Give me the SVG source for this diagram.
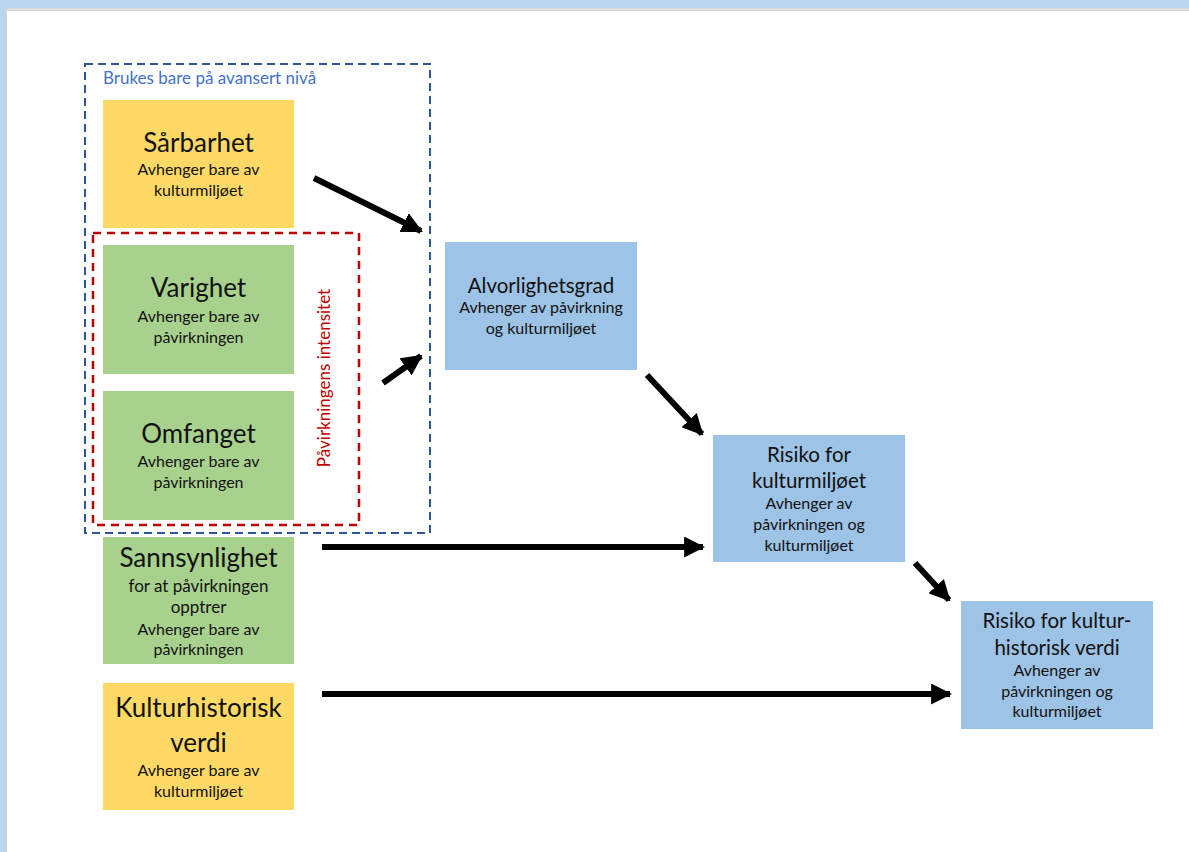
<svg xmlns="http://www.w3.org/2000/svg" width="1189" height="852" viewBox="0 0 1189 852">
<style>
text{font-family:Lato,"Liberation Sans",sans-serif;fill:#111;text-anchor:middle}
.t{font-size:26px}
.tm{font-size:20.5px}
.s{font-size:16px}
.yel{fill:#ffd966}
.grn{fill:#a9d18e}
.blu{fill:#9dc3e6}
.c{stroke:#000;stroke-width:6;fill:none;marker-end:url(#ah)}
</style>
<defs>
<marker id="ah" markerWidth="3.5" markerHeight="3.5" refX="9" refY="5" orient="auto" markerUnits="strokeWidth" viewBox="0 0 10 10">
<path d="M0,0 L10,5 L0,10 Z" fill="#000"/>
</marker>
</defs>
<rect x="0" y="0" width="1189" height="852" fill="#fff"/>
<rect x="0" y="0" width="1189" height="8" fill="#bcd7ed"/>
<rect x="0" y="0" width="7" height="852" fill="#bcd7ed"/>
<rect x="7" y="8" width="1182" height="3" fill="#d9d9d9"/>

<g id="group-avansert">
<rect x="85" y="64" width="345" height="469" fill="none" stroke="#2f5597" stroke-width="2" stroke-dasharray="8,5"/>
<text x="103" y="84" style="font-size:17px;fill:#4472c4;text-anchor:start">Brukes bare på avansert nivå</text>
</g>

<g id="sarbarhet">
<rect class="yel" x="103" y="100" width="191" height="128"/>
<text class="t" x="198.5" y="152">Sårbarhet</text>
<text class="s" x="198.5" y="175">Avhenger bare av</text>
<text class="s" x="198.5" y="196">kulturmiljøet</text>
</g>

<g id="group-intensitet">
<rect x="93" y="233" width="266" height="292" fill="none" stroke="#c00000" stroke-width="2.5" stroke-dasharray="8,6"/>
<text transform="translate(330,378) rotate(-90)" style="font-size:17px;fill:#c00000">Påvirkningens intensitet</text>
</g>

<g id="varighet">
<rect class="grn" x="103" y="245" width="191" height="129"/>
<text class="t" x="198.5" y="297">Varighet</text>
<text class="s" x="198.5" y="322">Avhenger bare av</text>
<text class="s" x="198.5" y="343">påvirkningen</text>
</g>

<g id="omfanget">
<rect class="grn" x="103" y="391" width="191" height="129"/>
<text class="t" x="198.5" y="443">Omfanget</text>
<text class="s" x="198.5" y="467">Avhenger bare av</text>
<text class="s" x="198.5" y="488">påvirkningen</text>
</g>

<g id="sannsynlighet">
<rect class="grn" x="103" y="537" width="191" height="127"/>
<text class="t" x="198.5" y="567">Sannsynlighet</text>
<text x="198.5" y="592" style="font-size:17px">for at påvirkningen</text>
<text x="198.5" y="613" style="font-size:17px">opptrer</text>
<text class="s" x="198.5" y="635">Avhenger bare av</text>
<text class="s" x="198.5" y="655">påvirkningen</text>
</g>

<g id="kulturhistorisk-verdi">
<rect class="yel" x="103" y="683" width="191" height="127"/>
<text class="t" x="198.5" y="717">Kulturhistorisk</text>
<text class="t" x="198.5" y="752">verdi</text>
<text class="s" x="198.5" y="776">Avhenger bare av</text>
<text class="s" x="198.5" y="797">kulturmiljøet</text>
</g>

<g id="alvorlighetsgrad">
<rect class="blu" x="445" y="242" width="192" height="128"/>
<text class="tm" x="541" y="293">Alvorlighetsgrad</text>
<text class="s" x="541" y="313">Avhenger av påvirkning</text>
<text class="s" x="541" y="334">og kulturmiljøet</text>
</g>

<g id="risiko-kulturmiljo">
<rect class="blu" x="713" y="435" width="192" height="127"/>
<text class="tm" x="809" y="462">Risiko for</text>
<text class="tm" x="809" y="488">kulturmiljøet</text>
<text class="s" x="809" y="509">Avhenger av</text>
<text class="s" x="809" y="530">påvirkningen og</text>
<text class="s" x="809" y="551">kulturmiljøet</text>
</g>

<g id="risiko-kulturhistorisk">
<rect class="blu" x="961" y="601" width="192" height="128"/>
<text class="tm" x="1057" y="628">Risiko for kultur-</text>
<text class="tm" x="1057" y="655">historisk verdi</text>
<text class="s" x="1057" y="676">Avhenger av</text>
<text class="s" x="1057" y="697">påvirkningen og</text>
<text class="s" x="1057" y="717">kulturmiljøet</text>
</g>

<g id="connectors">
<line class="c" x1="314" y1="178" x2="421" y2="231"/>
<line class="c" x1="383" y1="383" x2="421" y2="356"/>
<line class="c" x1="647" y1="375" x2="702" y2="434"/>
<line class="c" x1="322" y1="547" x2="703" y2="547"/>
<line class="c" x1="915" y1="563" x2="949" y2="600"/>
<line class="c" x1="322" y1="694" x2="950" y2="694"/>
</g>
</svg>
